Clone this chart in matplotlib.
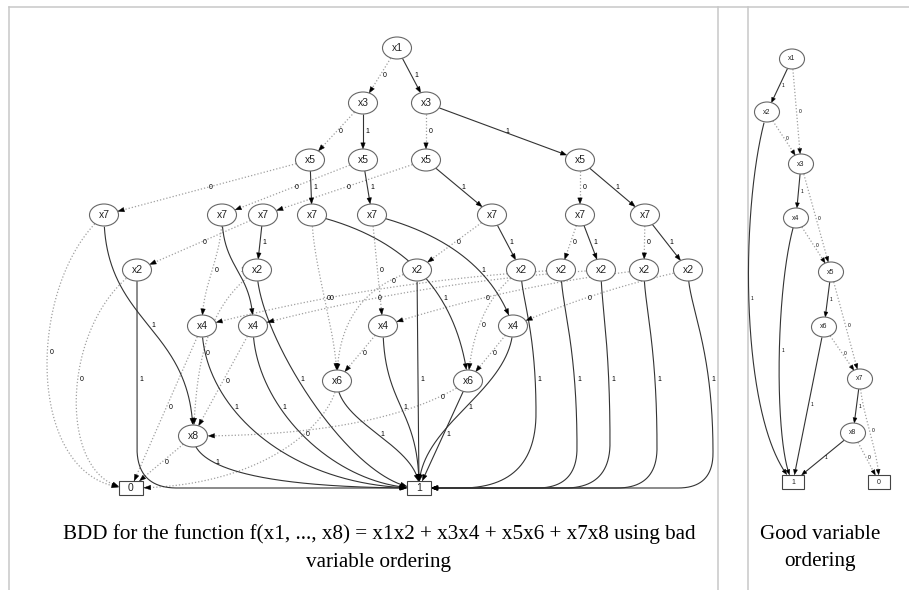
"""BDD for f(x1..x8) = x1x2 + x3x4 + x5x6 + x7x8: bad vs good variable ordering"""

import numpy as np
import matplotlib.pyplot as plt
from matplotlib.patches import Ellipse, Rectangle, Polygon

# ---- bad ordering BDD (layout positions in px, as graphviz placed them) ----
bad_names = ["x1",
             "x3a", "x3b",
             "x5a", "x5b", "x5c", "x5d",
             "x7a", "x7b", "x7c", "x7d", "x7e", "x7f", "x7g", "x7h",
             "x2a", "x2b", "x2c", "x2d", "x2e", "x2f", "x2g", "x2h",
             "x4a", "x4b", "x4c", "x4d",
             "x6a", "x6b",
             "x8", "T0", "T1"]
bad_labels = ["x1", "x3", "x3", "x5", "x5", "x5", "x5",
              "x7", "x7", "x7", "x7", "x7", "x7", "x7", "x7",
              "x2", "x2", "x2", "x2", "x2", "x2", "x2", "x2",
              "x4", "x4", "x4", "x4", "x6", "x6", "x8", "0", "1"]
bad_x = [397, 363, 426, 310, 363, 426, 580,
         104, 222, 263, 312, 372, 492, 580, 645,
         137, 257, 417, 521, 561, 601, 644, 688,
         202, 253, 383, 513, 337, 468, 193, 131, 419]
bad_y = [48, 103, 103, 160, 160, 160, 160,
         215, 215, 215, 215, 215, 215, 215, 215,
         270, 270, 270, 270, 270, 270, 270, 270,
         326, 326, 326, 326, 381, 381, 436, 488, 488]

bad_edges = [("x1", "x3a", 0), ("x1", "x3b", 1),
             ("x3a", "x5a", 0), ("x3a", "x5b", 1),
             ("x3b", "x5c", 0), ("x3b", "x5d", 1),
             ("x5a", "x7a", 0), ("x5a", "x7d", 1),
             ("x5b", "x7b", 0), ("x5b", "x7e", 1),
             ("x5c", "x7c", 0), ("x5c", "x7f", 1),
             ("x5d", "x7g", 0), ("x5d", "x7h", 1),
             ("x7a", "T0", 0), ("x7a", "x8", 1),
             ("x7b", "x4a", 0), ("x7b", "x4b", 1),
             ("x7c", "x2a", 0), ("x7c", "x2b", 1),
             ("x7d", "x6a", 0), ("x7d", "x6b", 1),
             ("x7e", "x4c", 0), ("x7e", "x4d", 1),
             ("x7f", "x2c", 0), ("x7f", "x2d", 1),
             ("x7g", "x2e", 0), ("x7g", "x2f", 1),
             ("x7h", "x2g", 0), ("x7h", "x2h", 1),
             ("x2a", "T0", 0), ("x2a", "T1", 1),
             ("x2b", "x8", 0), ("x2b", "T1", 1),
             ("x2c", "x6a", 0), ("x2c", "T1", 1),
             ("x2d", "x6b", 0), ("x2d", "T1", 1),
             ("x2e", "x4a", 0), ("x2e", "T1", 1),
             ("x2f", "x4b", 0), ("x2f", "T1", 1),
             ("x2g", "x4c", 0), ("x2g", "T1", 1),
             ("x2h", "x4d", 0), ("x2h", "T1", 1),
             ("x4a", "T0", 0), ("x4a", "T1", 1),
             ("x4b", "x8", 0), ("x4b", "T1", 1),
             ("x4c", "x6a", 0), ("x4c", "T1", 1),
             ("x4d", "x6b", 0), ("x4d", "T1", 1),
             ("x6a", "T0", 0), ("x6a", "T1", 1),
             ("x6b", "x8", 0), ("x6b", "T1", 1),
             ("x8", "T0", 0), ("x8", "T1", 1)]

# ---- good ordering BDD ----
good_names = ["g1", "g2", "g3", "g4", "g5", "g6", "g7", "g8", "G1", "G0"]
good_labels = ["x1", "x2", "x3", "x4", "x5", "x6", "x7", "x8", "1", "0"]
good_x = [792, 767, 801, 796, 831, 824, 860, 853, 793, 879]
good_y = [59, 112, 164, 218, 272, 327, 379, 433, 482, 482]
good_edges = [("g1", "g2", 1), ("g1", "g3", 0),
              ("g2", "g3", 0), ("g2", "G1", 1),
              ("g3", "g4", 1), ("g3", "g5", 0),
              ("g4", "g5", 0), ("g4", "G1", 1),
              ("g5", "g6", 1), ("g5", "g7", 0),
              ("g6", "g7", 0), ("g6", "G1", 1),
              ("g7", "g8", 1), ("g7", "G0", 0),
              ("g8", "G0", 0), ("g8", "G1", 1)]

caption_bad = "BDD for the function f(x1, ..., x8) = x1x2 + x3x4 + x5x6 + x7x8 using bad\nvariable ordering"
caption_good = "Good variable\nordering"

# edge routing styles (how each spline bends); default is a straight line
bad_route = {
    ("x7a", "T0"): ("bulge", 80, 0.0),
    ("x2a", "T0"): ("bulge", 80, 0.0),
    ("x7a", "x8"): ("s", 0.5),
    ("x7b", "x4a"): ("s", 0.4),
    ("x7b", "x4b"): ("s", 0.5),
    ("x7d", "x6a"): ("s", 0.3),
    ("x7d", "x6b"): ("q", 0.9, 0.2),
    ("x7e", "x4d"): ("q", 0.8, 0.25),
    ("x2a", "T1"): ("drop", 0, 40),
    ("x2b", "x8"): ("bulge", 60, 0.3),
    ("x2b", "T1"): ("hook", 0.3, 0.4),
    ("x2c", "x6a"): ("q", 1.0, 0.2),
    ("x2d", "x6b"): ("q", 0.9, 0.3),
    ("x2d", "T1"): ("drop", 15, 75),
    ("x2e", "x4a"): ("arc", -0.05),
    ("x2e", "T1"): ("drop", 16, 40),
    ("x2f", "x4b"): ("arc", -0.05),
    ("x2f", "T1"): ("drop", 9, 45),
    ("x2g", "x4c"): ("arc", -0.05),
    ("x2g", "T1"): ("drop", 13, 40),
    ("x2h", "x4d"): ("arc", -0.05),
    ("x2h", "T1"): ("drop", 25, 35),
    ("x4a", "T1"): ("hook", 0.5, 0.6),
    ("x4b", "T1"): ("hook", 0.5, 0.5),
    ("x4c", "T1"): ("s", 0.5),
    ("x4d", "T1"): ("s", 0.4),
    ("x6a", "T0"): ("hook", 0.3, 0.7),
    ("x6a", "T1"): ("s", 0.4),
    ("x6b", "x8"): ("q", 0.3, 1.0),
    ("x8", "T1"): ("hook", 0.5, 0.8),
}
good_route = {
    ("g2", "G1"): ("bulge", 28, 0.15),
    ("g4", "G1"): ("bulge", 22, 0.1),
    ("g7", "G0"): ("s", 0.3),
}
# where along the drop an edge label sits (0 = source row, 1 = target row)
bad_label_at = {("x2c", "x6a"): 0.1, ("x6b", "x8"): 0.3}

SOLID = "#333333"
DOTTED = "#a0a0a0"
FRAME = "#c8c8c8"


def bezier(pts, n=300):
    t = np.linspace(0, 1, n)[:, None]
    p = [np.array(q, float) for q in pts]
    if len(p) == 2:
        return (1 - t) * p[0] + t * p[1]
    if len(p) == 3:
        return (1 - t) ** 2 * p[0] + 2 * (1 - t) * t * p[1] + t ** 2 * p[2]
    return ((1 - t) ** 3 * p[0] + 3 * (1 - t) ** 2 * t * p[1]
            + 3 * (1 - t) * t ** 2 * p[2] + t ** 3 * p[3])


def segments(s, d, route):
    """Bezier pieces for one edge."""
    sx, sy = s
    tx, ty = d
    dx, dy = tx - sx, ty - sy
    kind = route[0]
    if kind == "s":
        k = route[1]
        return [[s, (sx, sy + k * dy), (tx, ty - k * dy), d]]
    if kind == "hook":
        k1, k2 = route[1], route[2]
        return [[s, (sx, sy + k1 * dy), (tx - k2 * dx, ty), d]]
    if kind == "bulge":
        b, f = route[1], route[2]
        return [[s, (sx - b, sy + 0.25 * dy), (sx - b, ty - f * dy), d]]
    if kind == "q":
        return [[s, (sx + route[1] * dx, sy + route[2] * dy), d]]
    if kind == "arc":
        r = route[1]
        mx, my = (sx + tx) / 2, (sy + ty) / 2
        return [[s, (mx + r * dy, my - r * dx), d]]
    if kind == "drop":
        b, r = route[1], route[2]
        col = sx + b
        a = (col, ty - r)
        h = a[1] - sy
        c = (col + r * np.sign(dx), ty)
        return [[s, (sx, sy + 0.2 * h), (col, sy + 0.4 * h), a],
                [a, (col, ty), c],
                [c, d]]
    return [[s, d]]


def inside(pts, node, shapes):
    cx, cy, w, h, box = shapes[node]
    if box:
        return (np.abs(pts[:, 0] - cx) <= w / 2) & (np.abs(pts[:, 1] - cy) <= h / 2)
    return ((pts[:, 0] - cx) / (w / 2)) ** 2 + ((pts[:, 1] - cy) / (h / 2)) ** 2 <= 1


def draw_bdd(ax, names, labels, xs, ys, edges, routes, size, box_size,
             node_fs, edge_fs, arrow, label_at=None):
    label_at = label_at or {}
    pos = {n: (x, y) for n, x, y in zip(names, xs, ys)}
    shapes = {}
    for n, lab, x, y in zip(names, labels, xs, ys):
        box = lab in ("0", "1")
        w, h = box_size if box else size
        shapes[n] = (x, y, w, h, box)

    for src, dst, val in edges:
        route = routes.get((src, dst), ("line",))
        pieces = [bezier(p) for p in segments(pos[src], pos[dst], route)]
        curve = np.vstack(pieces)
        out_s = ~inside(curve, src, shapes)
        in_d = inside(curve, dst, shapes)
        i0 = np.argmax(out_s)
        i1 = i0 + np.argmax(in_d[i0:])
        seg = curve[i0:i1]
        tip = seg[-1]
        # back off along the path for the arrowhead
        rev = seg[::-1]
        dist = np.cumsum(np.r_[0, np.hypot(*np.diff(rev, axis=0).T)])
        j = min(np.searchsorted(dist, arrow[0]), len(seg) - 2)
        base = rev[j]
        line = seg[: len(seg) - j]
        if val == 1:
            ax.plot(line[:, 0], line[:, 1], color=SOLID, lw=0.8,
                    solid_capstyle="butt", zorder=2)
        else:
            ax.plot(line[:, 0], line[:, 1], color=DOTTED, lw=0.9,
                    linestyle=(0, (1, 1.6)), zorder=1)
        v = tip - base
        v = v / np.hypot(*v)
        nrm = np.array([-v[1], v[0]])
        head = [tip, base + nrm * arrow[1] / 2, base - nrm * arrow[1] / 2]
        ax.add_patch(Polygon(head, closed=True, fc="black", ec="black",
                             lw=0.3, zorder=3))
        # label where the edge is partway down between its two rows
        f = label_at.get((src, dst), 0.5)
        ymid = pos[src][1] + f * (pos[dst][1] - pos[src][1])
        k = np.argmax(seg[:, 1] >= ymid) if seg[-1, 1] >= ymid else len(seg) // 2
        mid = seg[k]
        ax.text(mid[0] + edge_fs * 0.9, mid[1], str(val), fontsize=edge_fs,
                ha="center", va="center", color="black", zorder=4,
                family="Liberation Sans")

    for n, lab in zip(names, labels):
        x, y, w, h, box = shapes[n]
        if box:
            p = Rectangle((x - w / 2, y - h / 2), w, h, fc="white",
                          ec="#444444", lw=0.8, zorder=5)
        else:
            p = Ellipse((x, y), w, h, fc="white", ec="#666666", lw=0.8, zorder=5)
        ax.add_patch(p)
        ax.text(x, y, lab, fontsize=node_fs, ha="center", va="center",
                zorder=6, family="Liberation Sans", color="#222222")


def main():
    fig = plt.figure(figsize=(9.09, 5.90), dpi=100)
    ax = fig.add_axes([0, 0, 1, 1])
    ax.set_xlim(0, 909)
    ax.set_ylim(590, 0)
    ax.axis("off")

    # thumbnail frames
    ax.plot([9, 909], [7, 7], color=FRAME, lw=1.1)
    for fx in (9, 718, 748):
        ax.plot([fx, fx], [7, 590], color=FRAME, lw=1.1)

    draw_bdd(ax, bad_names, bad_labels, bad_x, bad_y, bad_edges, bad_route,
             size=(29, 22), box_size=(24, 14), node_fs=7.5, edge_fs=5,
             arrow=(6, 4.5), label_at=bad_label_at)
    draw_bdd(ax, good_names, good_labels, good_x, good_y, good_edges, good_route,
             size=(25, 20), box_size=(22, 14), node_fs=5, edge_fs=3.5,
             arrow=(5, 4))

    ax.text(379, 548, caption_bad, fontsize=15.2, ha="center", va="center",
            family="Liberation Serif", linespacing=1.6)
    ax.text(820, 548, caption_good, fontsize=15.2, ha="center", va="center",
            family="Liberation Serif", linespacing=1.6)

    fig.savefig("out.png", dpi=100)


main()
